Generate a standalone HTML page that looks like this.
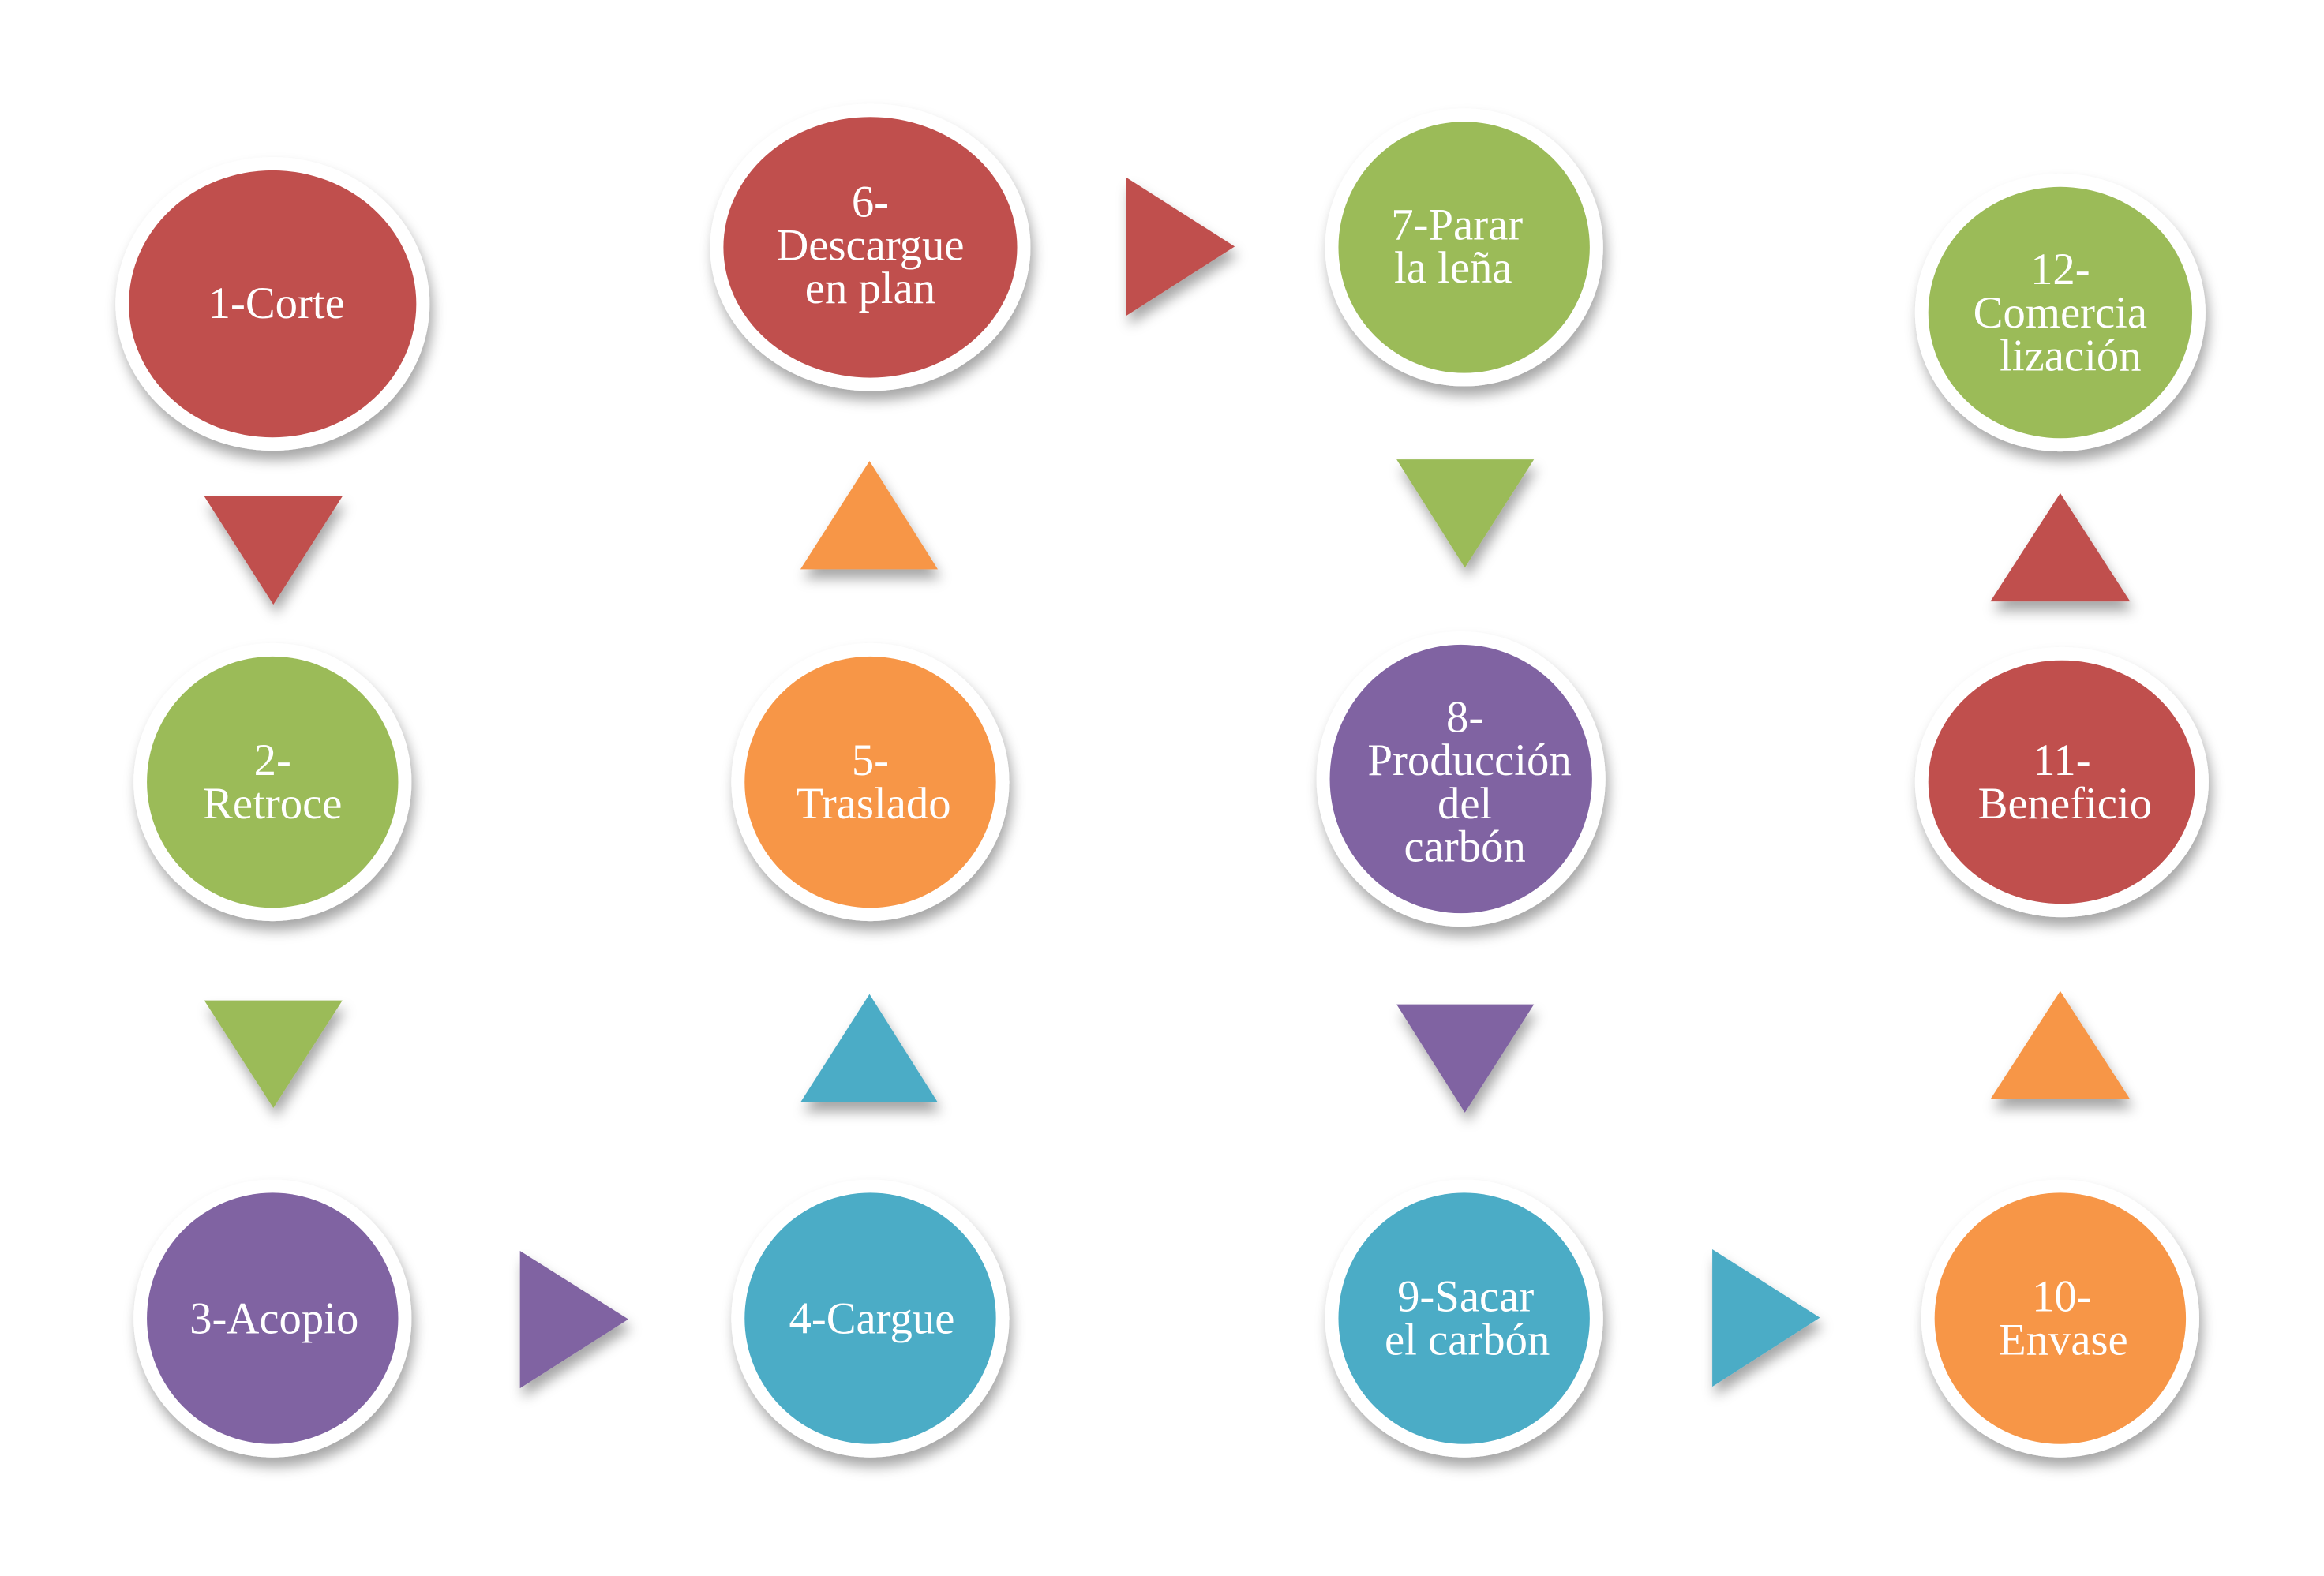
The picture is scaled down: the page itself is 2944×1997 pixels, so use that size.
<!DOCTYPE html>
<html><head><meta charset="utf-8"><style>
html,body{margin:0;padding:0;background:#fff;}
svg{display:block;}
text{font-family:"Liberation Serif",serif;font-size:57px;fill:#fff;text-anchor:middle;}
</style></head><body>
<svg width="2944" height="1997" viewBox="0 0 2944 1997" xmlns="http://www.w3.org/2000/svg">
<defs>
<filter id="sh" x="-20%" y="-20%" width="140%" height="150%">
<feDropShadow dx="4" dy="12" stdDeviation="8" flood-color="#000" flood-opacity="0.35"/>
</filter>
</defs>
<g transform="scale(0.995)">
<g filter="url(#sh)">
<ellipse cx="347" cy="387" rx="200" ry="187" fill="#fff"/><ellipse cx="347" cy="387" rx="183" ry="170" fill="#C0504D"/>
<ellipse cx="1108" cy="315" rx="204" ry="183" fill="#fff"/><ellipse cx="1108" cy="315" rx="187" ry="166" fill="#C0504D"/>
<ellipse cx="1864" cy="315" rx="177" ry="177" fill="#fff"/><ellipse cx="1864" cy="315" rx="160" ry="160" fill="#9BBB59"/>
<ellipse cx="2623" cy="398" rx="185" ry="177" fill="#fff"/><ellipse cx="2623" cy="398" rx="168" ry="160" fill="#9BBB59"/>

<ellipse cx="347" cy="996" rx="177" ry="177" fill="#fff"/><ellipse cx="347" cy="996" rx="160" ry="160" fill="#9BBB59"/>
<ellipse cx="1108" cy="996" rx="177" ry="177" fill="#fff"/><ellipse cx="1108" cy="996" rx="160" ry="160" fill="#F79646"/>
<ellipse cx="1860" cy="992" rx="184" ry="188" fill="#fff"/><ellipse cx="1860" cy="992" rx="167" ry="171" fill="#8064A2"/>
<ellipse cx="2625" cy="996" rx="187" ry="172" fill="#fff"/><ellipse cx="2625" cy="996" rx="170" ry="155" fill="#C0504D"/>

<ellipse cx="347" cy="1679" rx="177" ry="177" fill="#fff"/><ellipse cx="347" cy="1679" rx="160" ry="160" fill="#8064A2"/>
<ellipse cx="1108" cy="1679" rx="177" ry="177" fill="#fff"/><ellipse cx="1108" cy="1679" rx="160" ry="160" fill="#4BACC6"/>
<ellipse cx="1864" cy="1679" rx="177" ry="177" fill="#fff"/><ellipse cx="1864" cy="1679" rx="160" ry="160" fill="#4BACC6"/>
<ellipse cx="2623" cy="1679" rx="177" ry="177" fill="#fff"/><ellipse cx="2623" cy="1679" rx="160" ry="160" fill="#F79646"/>

<polygon points="260,632 436,632 348,770" fill="#C0504D"/>
<polygon points="1019,725 1194,725 1107,587" fill="#F79646"/>
<polygon points="1434,226 1572,314 1434,402" fill="#C0504D"/>
<polygon points="1778,585 1953,585 1865,723" fill="#9BBB59"/>
<polygon points="2534,766 2712,766 2623,628" fill="#C0504D"/>
<polygon points="260,1274 436,1274 348,1411" fill="#9BBB59"/>
<polygon points="1019,1404 1194,1404 1107,1266" fill="#4BACC6"/>
<polygon points="1778,1279 1953,1279 1865,1417" fill="#8064A2"/>
<polygon points="2534,1400 2712,1400 2623,1262" fill="#F79646"/>
<polygon points="662,1593 800,1680 662,1768" fill="#8064A2"/>
<polygon points="2180,1591 2317,1678 2180,1766" fill="#4BACC6"/>
</g>
<text x="352" y="405">1-Corte</text>
<text x="1108" y="276">6-</text><text x="1108" y="331">Descargue</text><text x="1108" y="386">en plan</text>
<text x="1855" y="305">7-Parar</text><text x="1850" y="360">la leña</text>
<text x="2623" y="362">12-</text><text x="2623" y="417">Comercia</text><text x="2636" y="472">lización</text>
<text x="347" y="987">2-</text><text x="347" y="1042">Retroce</text>
<text x="1108" y="987">5-</text><text x="1112" y="1042">Traslado</text>
<text x="1865" y="932">8-</text><text x="1871" y="987">Producción</text><text x="1865" y="1042">del</text><text x="1865" y="1097">carbón</text>
<text x="2625" y="987">11-</text><text x="2629" y="1042">Beneficio</text>
<text x="349" y="1698">3-Acopio</text>
<text x="1110" y="1698">4-Cargue</text>
<text x="1866" y="1670">9-Sacar</text><text x="1868" y="1725">el carbón</text>
<text x="2625" y="1670">10-</text><text x="2627" y="1725">Envase</text>
</g>
</svg>
</body></html>
